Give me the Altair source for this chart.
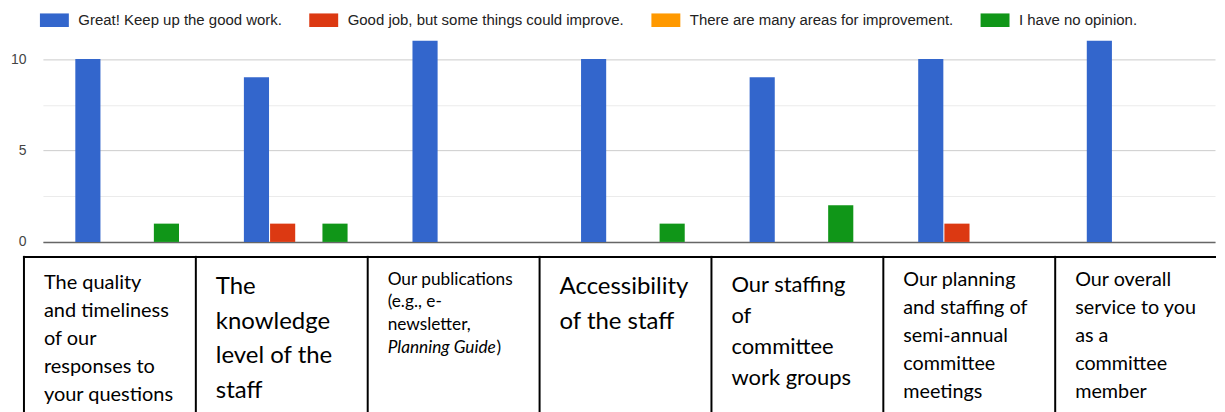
import altair as alt
import pandas as pd

categories = [
    "The quality and timeliness of our responses to your questions",
    "The knowledge level of the staff",
    "Our publications (e.g., e-newsletter, Planning Guide)",
    "Accessibility of the staff",
    "Our staffing of committee work groups",
    "Our planning and staffing of semi-annual committee meetings",
    "Our overall service to you as a committee member",
]
series = [
    "Great! Keep up the good work.",
    "Good job, but some things could improve.",
    "There are many areas for improvement.",
    "I have no opinion.",
]
great = [10, 9, 11, 10, 9, 10, 11]
good_job = [0, 1, 0, 0, 0, 1, 0]
many_areas = [0, 0, 0, 0, 0, 0, 0]
no_opinion = [1, 1, 0, 1, 2, 0, 0]
colors = ["#3366cc", "#dc3912", "#ff9900", "#109618"]

box_lines = [
    ["The quality", "and timeliness", "of our", "responses to", "your questions"],
    ["The", "knowledge", "level of the", "staff"],
    ["Our publications", "(e.g., e-", "newsletter,"],
    ["Accessibility", "of the staff"],
    ["Our staffing", "of", "committee", "work groups"],
    ["Our planning", "and staffing of", "semi-annual", "committee", "meetings"],
    ["Our overall", "service to you", "as a", "committee", "member"],
]
italic_title = "Planning Guide"
italic_after = ")"

rows = []
for s, vals in zip(series, [great, good_job, many_areas, no_opinion]):
    for c, v in zip(categories, vals):
        rows.append({"category": c, "series": s, "count": v})
bar_df = pd.DataFrame(rows)

PLOT_W = 1175
PLOT_H = 233

top = (
    alt.Chart(bar_df)
    .transform_filter("datum.count > 0")
    .mark_bar()
    .encode(
        x=alt.X(
            "category:N",
            sort=categories,
            scale=alt.Scale(paddingInner=0.385, paddingOuter=0.1689, align=0.569),
            axis=alt.Axis(title=None, labels=False, ticks=False, domain=True,
                          domainColor="#666666", domainWidth=1.5, grid=False),
        ),
        xOffset=alt.XOffset("series:N", scale=alt.Scale(domain=series, paddingInner=0.04)),
        y=alt.Y(
            "count:Q",
            scale=alt.Scale(domain=[0, 12.71], nice=False),
            axis=alt.Axis(
                title=None,
                values=[0, 2.5, 5, 7.5, 10],
                labelExpr="datum.value % 5 == 0 ? datum.label : ''",
                ticks=False,
                domain=False,
                labelPadding=17,
                labelFont="Liberation Sans",
                labelFontSize=14,
                labelColor="#444444",
                gridColor={"condition": {"test": "datum.value % 5 != 0", "value": "#ebebeb"},
                           "value": "#cccccc"},
                minExtent=34,
                maxExtent=34,
            ),
        ),
        color=alt.Color(
            "series:N",
            scale=alt.Scale(domain=series, range=colors),
            legend=alt.Legend(
                title=None,
                orient="none",
                legendX=4,
                legendY=3,
                direction="horizontal",
                symbolType="M-2.9,-1.36H2.9V1.36H-2.9Z",
                symbolSize=100,
                symbolStrokeWidth=0,
                labelFont="Liberation Sans",
                labelFontSize=15,
                labelColor="#222222",
                labelOffset=16.5,
                columnPadding=27,
                labelLimit=400,
                padding=0,
            ),
        ),
    )
    .properties(width=PLOT_W, height=PLOT_H)
)

box_df = pd.DataFrame({"category": categories, "lines": box_lines})
BOX_H = 155

x_box = alt.X(
    "category:N",
    sort=categories,
    bandPosition=0,
    scale=alt.Scale(paddingInner=0, paddingOuter=0, range=[-19, 1187.1]),
    axis=None,
)

vrules = alt.Chart(box_df).mark_rule(color="black", strokeWidth=2, strokeCap="square").encode(
    x=x_box, y=alt.value(0), y2=alt.value(BOX_H)
)
hrule = alt.Chart(box_df).transform_filter(
    alt.FieldEqualPredicate(field="category", equal=categories[0])
).mark_rule(color="black", strokeWidth=2, strokeCap="square").encode(
    x=x_box, x2=alt.value(PLOT_W), y=alt.value(0)
)


def text_layer(idx, size, lh, base):
    return (
        alt.Chart(box_df)
        .transform_filter(alt.FieldOneOfPredicate(field="category", oneOf=[categories[i] for i in idx]))
        .mark_text(align="left", baseline="alphabetic", font="Lato", fontSize=size,
                   lineHeight=lh, dx=20, color="black")
        .encode(x=x_box, y=alt.value(base), text="lines")
    )


t1 = text_layer([0], 20, 28, 32.5)
t2 = text_layer([1, 3], 24, 34.5, 37.5)
t3 = text_layer([2], 17.3, 22.7, 28)
t5 = text_layer([4], 22, 31.3, 35)
t6 = text_layer([5, 6], 19.8, 28, 29)

ital_df = pd.DataFrame({"category": [categories[2]], "a": [italic_title], "b": [italic_after]})
ti = alt.Chart(ital_df).mark_text(align="left", baseline="alphabetic", font="Lato", fontSize=17.3,
                                  fontStyle="italic", dx=20, color="black").encode(
    x=x_box, y=alt.value(28 + 3 * 22.7), text="a")
tp = alt.Chart(ital_df).mark_text(align="left", baseline="alphabetic", font="Lato", fontSize=17.3,
                                  dx=129, color="black").encode(
    x=x_box, y=alt.value(28 + 3 * 22.7), text="b")

bottom = alt.layer(vrules, hrule, t1, t2, t3, t5, t6, ti, tp).properties(width=PLOT_W, height=BOX_H)

chart = (
    alt.vconcat(top, bottom, spacing=5, padding={"left": 0, "top": 0, "right": 0, "bottom": 0})
    .configure_view(stroke="transparent")
)

chart.save("out.html", embed_options={"renderer": "svg", "actions": False})
